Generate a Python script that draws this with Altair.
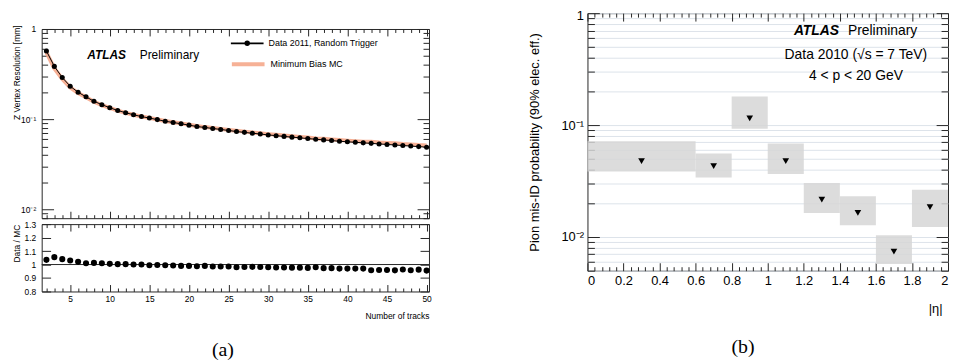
import altair as alt
import pandas as pd

# ---------------- data: panel (a) ----------------
ntracks = list(range(2, 51))
data_res = [0.57, 0.385, 0.29, 0.232, 0.199, 0.177, 0.158, 0.145, 0.134, 0.125,
            0.118, 0.112, 0.107, 0.103, 0.099, 0.095, 0.092, 0.089, 0.086, 0.083,
            0.081, 0.079, 0.077, 0.075, 0.073, 0.0715, 0.070, 0.0685, 0.067, 0.0657,
            0.0645, 0.0633, 0.0622, 0.061, 0.060, 0.059, 0.058, 0.057, 0.0562, 0.0555,
            0.0547, 0.054, 0.0532, 0.0525, 0.0518, 0.0511, 0.0504, 0.0497, 0.049]
mc_res = [0.551, 0.365, 0.279, 0.225, 0.195, 0.175, 0.156, 0.1435, 0.1333, 0.1246,
          0.1176, 0.112, 0.107, 0.1035, 0.0993, 0.0955, 0.0926, 0.0899, 0.0869, 0.0841,
          0.0818, 0.0802, 0.0782, 0.0761, 0.0745, 0.0728, 0.0712, 0.0698, 0.0684, 0.0672,
          0.0659, 0.0648, 0.0637, 0.0626, 0.0612, 0.0606, 0.0596, 0.0588, 0.0579, 0.0572,
          0.0564, 0.0564, 0.0554, 0.0547, 0.0541, 0.0531, 0.0526, 0.0517, 0.0513]
ratio = [1.035, 1.055, 1.04, 1.03, 1.02, 1.01, 1.012, 1.01, 1.005, 1.003,
         1.003, 1.0, 1.0, 0.995, 0.997, 0.995, 0.993, 0.99, 0.99, 0.987,
         0.99, 0.985, 0.985, 0.985, 0.98, 0.982, 0.983, 0.982, 0.98, 0.978,
         0.978, 0.977, 0.977, 0.975, 0.98, 0.973, 0.973, 0.97, 0.97, 0.97,
         0.97, 0.958, 0.96, 0.96, 0.957, 0.963, 0.958, 0.962, 0.955]

# ---------------- data: panel (b) ----------------
eta_lo = [0.0, 0.6, 0.8, 1.0, 1.2, 1.4, 1.6, 1.8]
eta_hi = [0.6, 0.8, 1.0, 1.2, 1.4, 1.6, 1.8, 2.0]
eta_mid = [0.3, 0.7, 0.9, 1.1, 1.3, 1.5, 1.7, 1.9]
misid = [0.0477, 0.043, 0.115, 0.0477, 0.0216, 0.0164, 0.0074, 0.0185]
band_lo = [0.0384, 0.034, 0.0927, 0.0366, 0.0164, 0.0127, 0.00573, 0.0123]
band_hi = [0.0718, 0.0557, 0.18, 0.0684, 0.0303, 0.0231, 0.01035, 0.0264]

# tick values
xa_ticks = list(range(2, 51))
ya_ticks = [0.008, 0.009] + [k / 100 for k in range(1, 10)] + [k / 10 for k in range(1, 10)] + [1]
yr_ticks = [0.8, 0.9, 1.0, 1.1, 1.2, 1.3]
xb_ticks = [round(k * 0.04, 2) for k in range(0, 51)]
yb_ticks = [k / 1000 for k in range(5, 10)] + [k / 100 for k in range(1, 10)] + [k / 10 for k in range(1, 10)] + [1]

FONT = "Liberation Sans"
FRAME = "#262626"
LOGMAJ = "abs(log(datum.value)/LN10 - round(log(datum.value)/LN10)) < 0.001"
LOGLAB = ("datum.value > 0.999 ? '1' : abs(datum.value - 0.1) < 1e-9 ? '10\u207b\u00b9' : "
          "abs(datum.value - 0.01) < 1e-9 ? '10\u207b\u00b2' : ''")


def axis(orient, values, test, major, minor, labels=False, **kw):
    d = dict(orient=orient, values=values, grid=False, domain=False,
             tickColor=FRAME, tickWidth=1, labels=labels,
             tickSize={"condition": {"test": test, "value": -major}, "value": -minor})
    if "title" not in kw:
        d["title"] = None
    d.update(kw)
    return alt.Axis(**d)


def note(text, x, y, size, weight="normal", style="normal", align="left", font=FONT):
    return alt.Chart(pd.DataFrame({"k": [0]})).mark_text(
        text=text, font=font, fontSize=size, fontWeight=weight, fontStyle=style,
        align=align, baseline="middle", color="black"
    ).encode(x=alt.value(x), y=alt.value(y))


df_a = pd.DataFrame({"ntracks": ntracks, "res": data_res, "mc": mc_res, "ratio": ratio})

xs_a = alt.Scale(domain=[1.4, 50.3], nice=False, zero=False)
ys_a = alt.Scale(type="log", domain=[0.008, 1], nice=False)
ys_r = alt.Scale(domain=[0.8, 1.3], nice=False, zero=False)

WA = 391
DATA_LBL = "Data 2011, Random Trigger"
MC_LBL = "Minimum Bias MC"

# ---- main plot (a)
mc_line = alt.Chart(df_a).transform_calculate(s="'" + MC_LBL + "'").mark_line(
    strokeWidth=4, opacity=0.9
).encode(
    x=alt.X("ntracks:Q", scale=xs_a,
            axis=axis("bottom", xa_ticks, "datum.value % 5 == 0", 7, 3.5)),
    y=alt.Y("mc:Q", scale=ys_a,
            axis=axis("left", ya_ticks, LOGMAJ, 12, 6, labels=True, labelExpr=LOGLAB,
                      labelFontSize=8.5, labelPadding=18,
                      title="Z Vertex Resolution [mm]", titleFontSize=8.5,
                      titleX=-29, titleY=-4, titleAlign="right", titleBaseline="top")),
    color=alt.Color("s:N", scale=alt.Scale(domain=[MC_LBL], range=["#f6a98b"]),
                    legend=alt.Legend(orient="none", legendX=190, legendY=33, title=None,
                                      symbolType="stroke", symbolSize=1089,
                                      symbolStrokeWidth=4, labelFontSize=9, labelFont=FONT,
                                      labelOffset=4, padding=0)),
)

# thin black line through the data points (the x error bars), carries the legend entry
data_line = alt.Chart(df_a).transform_calculate(s="'" + DATA_LBL + "'").mark_line(
    color="black", strokeWidth=1
).encode(
    x=alt.X("ntracks:Q", scale=xs_a, axis=None),
    y=alt.Y("res:Q", scale=ys_a, axis=None),
    opacity=alt.Opacity("s:O", scale=alt.Scale(domain=[DATA_LBL], range=[1]),
                        legend=alt.Legend(orient="none", legendX=190, legendY=13, title=None,
                                          symbolType="M-1,0L1,0M-0.12,0A0.12,0.12,0,1,1,0.12,0A0.12,0.12,0,1,1,-0.12,0Z",
                                          symbolSize=1089, symbolStrokeWidth=1.6,
                                          symbolFillColor="black", symbolStrokeColor="black",
                                          labelFontSize=9, labelFont=FONT, labelOffset=4,
                                          padding=0)),
)

data_pts = alt.Chart(df_a).mark_point(
    filled=True, color="black", size=26, shape="circle", opacity=1
).encode(
    x=alt.X("ntracks:Q", scale=xs_a, axis=None),
    y=alt.Y("res:Q", scale=ys_a, axis=None),
)

mirror_a = alt.Chart(df_a).mark_point(opacity=0).encode(
    x=alt.X("ntracks:Q", scale=xs_a, axis=axis("top", xa_ticks, "datum.value % 5 == 0", 7, 3.5)),
    y=alt.Y("res:Q", scale=ys_a, axis=axis("right", ya_ticks, LOGMAJ, 12, 6)),
)

main_a = alt.layer(
    mc_line, data_line, data_pts, mirror_a,
    note("ATLAS", 46, 26, 12, weight="bold", style="italic"),
    note("Preliminary", 99, 26, 12),
).resolve_axis(x="independent", y="independent").properties(width=WA, height=191)

# ---- ratio plot (a)
r_pts = alt.Chart(df_a).mark_point(filled=True, color="black", size=38, shape="circle",
                                   opacity=1).encode(
    x=alt.X("ntracks:Q", scale=xs_a,
            axis=axis("bottom", xa_ticks, "datum.value % 5 == 0", 7, 3.5, labels=True,
                      labelExpr="datum.value % 5 == 0 ? format(datum.value, 'd') : ''",
                      labelFontSize=8.5, labelPadding=10,
                      title="Number of tracks", titleFontSize=8.5, titleX=WA, titleY=24,
                      titleAlign="right", titleBaseline="middle")),
    y=alt.Y("ratio:Q", scale=ys_r,
            axis=axis("left", yr_ticks, "true", 9, 9, labels=True,
                      labelExpr="format(datum.value, '.1~f')", labelFontSize=8.5,
                      labelPadding=15, title="Data / MC", titleFontSize=8.5,
                      titleX=-29, titleY=0, titleAlign="right", titleBaseline="top")),
)
r_one = alt.Chart(pd.DataFrame({"k": [0]})).mark_rule(color=FRAME, strokeWidth=1).encode(
    y=alt.YDatum(1.0, scale=ys_r, axis=None)
)
mirror_r = alt.Chart(df_a).mark_point(opacity=0).encode(
    x=alt.X("ntracks:Q", scale=xs_a, axis=axis("top", xa_ticks, "datum.value % 5 == 0", 7, 3.5)),
    y=alt.Y("ratio:Q", scale=ys_r, axis=axis("right", yr_ticks, "true", 9, 9)),
)
ratio_a = alt.layer(
    r_one, r_pts, mirror_r,
    note("(a)", 183, 127, 20, align="center", font="Liberation Serif"),
).resolve_axis(x="independent", y="independent").properties(width=WA, height=68)

spacer = alt.Chart(pd.DataFrame({"k": [0]})).mark_point(opacity=0).encode(
    x=alt.X("k:Q", axis=None), y=alt.Y("k:Q", axis=None)
).properties(width=WA, height=9.5, view=alt.ViewBackground(stroke="transparent"))

panel_a = alt.vconcat(spacer, main_a, ratio_a, spacing=6, bounds="flush")

# ---------------- panel (b) ----------------
df_b = pd.DataFrame({"lo": eta_lo, "hi": eta_hi, "mid": eta_mid, "val": misid,
                     "blo": band_lo, "bhi": band_hi})
xs_b = alt.Scale(domain=[0, 2], nice=False, zero=False)
ys_b = alt.Scale(type="log", domain=[0.005, 1], nice=False)
XMAJ_B = "abs(datum.value*5 - round(datum.value*5)) < 0.001"

boxes = alt.Chart(df_b).mark_rect(fill="#d6d6d6", opacity=0.85).encode(
    x=alt.X("lo:Q", scale=xs_b,
            axis=axis("bottom", xb_ticks, XMAJ_B, 8, 4, labels=True,
                      labelExpr=XMAJ_B + " ? format(datum.value, '~g') : ''",
                      labelFontSize=13, labelPadding=12,
                      title="|\u03b7|", titleFontSize=13, titleX=358, titleY=38,
                      titleAlign="right", titleBaseline="middle")),
    x2="hi:Q",
    y=alt.Y("blo:Q", scale=ys_b,
            axis=axis("left", yb_ticks, LOGMAJ, 12, 7, labels=True, labelExpr=LOGLAB,
                      labelFontSize=13, labelPadding=16, grid=True, gridColor="#dde3ea",
                      gridWidth=1,
                      labelOffset={"condition": {"test": "datum.value > 0.999", "value": 2},
                                   "value": 0},
                      title="Pion mis-ID probability (90% elec. eff.)", titleFontSize=13,
                      titleX=-59, titleY=130, titleAlign="center", titleBaseline="top")),
    y2="bhi:Q",
)
tri = alt.Chart(df_b).mark_point(shape="triangle-down", filled=True, color="black", size=45,
                                 opacity=1).encode(
    x=alt.X("mid:Q", scale=xs_b, axis=None),
    y=alt.Y("val:Q", scale=ys_b, axis=None),
)
mirror_b = alt.Chart(df_b).mark_point(opacity=0).encode(
    x=alt.X("mid:Q", scale=xs_b, axis=axis("top", xb_ticks, XMAJ_B, 8, 4)),
    y=alt.Y("val:Q", scale=ys_b, axis=axis("right", yb_ticks, LOGMAJ, 12, 7)),
)
panel_b = alt.layer(
    boxes, tri, mirror_b,
    note("ATLAS", 254, 18, 14, weight="bold", style="italic", align="right"),
    note("Preliminary", 263, 18, 14),
    note("Data 2010 (\u221as = 7 TeV)", 271, 42, 14, align="center"),
    note("4 < p < 20 GeV", 271, 63, 14, align="center"),
    note("(b)", 157, 337, 20, align="center", font="Liberation Serif"),
).resolve_axis(x="independent", y="independent").properties(width=364, height=260)

chart = alt.hconcat(panel_a, panel_b, spacing=93).properties(
    padding={"left": 4, "top": -1.5, "right": 0, "bottom": 0}
).configure_view(stroke=FRAME, strokeWidth=1).configure_axis(
    labelFont=FONT, titleFont=FONT, labelColor="black", titleColor="black",
    titleFontWeight="normal"
)

chart.save("out.html", embed_options={"renderer": "svg", "actions": False})
